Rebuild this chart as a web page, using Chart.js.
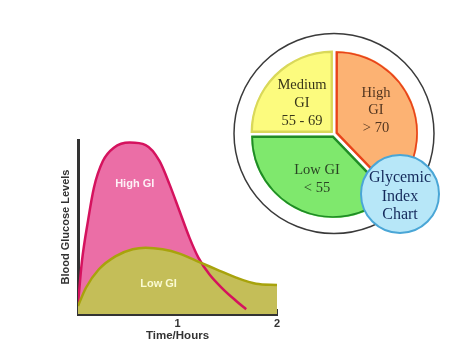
<!DOCTYPE html>
<html><head><meta charset="utf-8">
<script src="https://cdn.jsdelivr.net/npm/chart.js@4.4.1/dist/chart.umd.min.js"></script>
<style>
html,body{margin:0;padding:0;background:#fff;width:474px;height:359px;overflow:hidden;}
canvas{position:absolute;}
#line{left:0;top:0;}
#pie{left:214px;top:24px;}
</style></head><body>
<canvas id="line" width="300" height="359" style="width:300px;height:359px"></canvas>
<canvas id="pie" width="240" height="220" style="width:240px;height:220px"></canvas>
<script>
// ---- data ----
const highGiX = [0.00, 0.04, 0.10, 0.16, 0.25, 0.36, 0.52, 0.68, 0.82, 0.92, 1.02, 1.12, 1.21, 1.32, 1.46, 1.59, 1.69];
const highGiY = [5.9, 30.5, 53.4, 72.6, 87.9, 95.6, 98.5, 97.1, 87.9, 74.5, 59.2, 43.9, 32.4, 22.8, 14.2, 7.5, 2.7];
const lowGiX = [0.00, 0.08, 0.21, 0.38, 0.55, 0.68, 0.85, 1.02, 1.19, 1.39, 1.59, 1.79, 2.00];
const lowGiY = [4.6, 15.1, 25.7, 33.3, 37.2, 38.1, 37.2, 34.7, 30.5, 25.7, 20.9, 17.4, 16.7];
const xTicks = [1, 2];
const curveNames = ['Low GI', 'High GI'];
const axisTitles = ['Time/Hours', 'Blood Glucose Levels'];

const giCategories = ['High GI', 'Low GI', 'Medium GI'];
const giShares = [136, 134, 90];
const giLabelLines = [['High', 'GI', '> 70'], ['Low GI', '< 55'], ['Medium', 'GI', '55 - 69']];
const badgeLines = ['Glycemic', 'Index', 'Chart'];

// ---- line chart ----
const sans = 'Liberation Sans, Arial, sans-serif';
const serif = 'Liberation Serif, Times New Roman, serif';

const curveLabels = {
  id: 'curveLabels',
  afterDatasetsDraw(chart) {
    const {ctx, scales: {x, y}} = chart;
    ctx.save();
    ctx.font = 'bold 11px ' + sans;
    ctx.textAlign = 'center';
    ctx.textBaseline = 'middle';
    ctx.fillStyle = '#fdf0f6';
    ctx.fillText(curveNames[1], x.getPixelForValue(0.57), y.getPixelForValue(75));
    ctx.fillStyle = '#fafad2';
    ctx.fillText(curveNames[0], x.getPixelForValue(0.81), y.getPixelForValue(17.5));
    ctx.restore();
  }
};

new Chart(document.getElementById('line'), {
  type: 'line',
  data: {
    datasets: [
      { label: curveNames[0], data: lowGiX.map((v, i) => ({x: v, y: lowGiY[i]})),
        borderColor: '#a8a30c', backgroundColor: '#c4be58', borderWidth: 2.5,
        fill: 'origin', pointRadius: 0, cubicInterpolationMode: 'monotone' },
      { label: curveNames[1], data: highGiX.map((v, i) => ({x: v, y: highGiY[i]})),
        borderColor: '#d5125e', backgroundColor: '#eb6ea6', borderWidth: 2.5,
        fill: 'origin', pointRadius: 0, cubicInterpolationMode: 'monotone' }
    ]
  },
  options: {
    responsive: false, animation: false,
    layout: {padding: {left: 0, right: 23, top: 140, bottom: 15}},
    plugins: {legend: {display: false}, tooltip: {enabled: false}, filler: {drawTime: 'beforeDatasetsDraw'}},
    scales: {
      x: {
        type: 'linear', min: 0, max: 2,
        afterBuildTicks: s => { s.ticks = xTicks.map(v => ({value: v})); },
        afterFit: s => { s.height = 30; },
        grid: {drawOnChartArea: false, tickLength: -5, color: '#333', lineWidth: 2},
        border: {display: true, color: '#333', width: 3},
        ticks: {padding: 8, color: '#333', font: {family: sans, weight: 'bold', size: 11}},
        title: {display: true, text: axisTitles[0], color: '#333',
                font: {family: sans, weight: 'bold', size: 11.5}, padding: {top: 0, bottom: 1}}
      },
      y: {
        min: 0, max: 100,
        afterFit: s => { s.width = 78; },
        ticks: {display: false},
        grid: {drawOnChartArea: false, drawTicks: false},
        border: {display: true, color: '#333', width: 3},
        title: {display: true, text: axisTitles[1], color: '#333',
                font: {family: sans, weight: 'bold', size: 11}, padding: {top: 59, bottom: 0}}
      }
    }
  },
  plugins: [curveLabels]
});

// ---- pie chart ----
const ringAndLabels = {
  id: 'ringAndLabels',
  beforeDatasetsDraw(chart) {
    const a = chart.chartArea, ctx = chart.ctx;
    const cx = (a.left + a.right) / 2, cy = (a.top + a.bottom) / 2;
    ctx.save();
    ctx.beginPath();
    ctx.arc(cx, cy - 0.5, 100, 0, Math.PI * 2);
    ctx.fillStyle = '#fff';
    ctx.fill();
    ctx.lineWidth = 1.5;
    ctx.strokeStyle = '#3a3a3a';
    ctx.stroke();
    ctx.restore();
  },
  afterDatasetsDraw(chart) {
    const a = chart.chartArea, ctx = chart.ctx;
    const cx = (a.left + a.right) / 2, cy = (a.top + a.bottom) / 2;
    ctx.save();
    ctx.textAlign = 'center';
    ctx.textBaseline = 'middle';
    ctx.font = '14.5px ' + serif;
    const blocks = [
      {dx: 42, dy: [-41, -23.5, -6], color: '#533620'},
      {dx: -17, dy: [36, 54], color: '#2a4424'},
      {dx: -32, dy: [-49, -31, -13], color: '#38361a'}
    ];
    giLabelLines.forEach((lines, i) => {
      ctx.fillStyle = blocks[i].color;
      lines.forEach((t, j) => ctx.fillText(t, cx + blocks[i].dx, cy + blocks[i].dy[j]));
    });
    // badge
    const bx = cx + 66, by = cy + 60;
    ctx.beginPath();
    ctx.arc(bx, by, 39, 0, Math.PI * 2);
    ctx.fillStyle = '#b7e7f8';
    ctx.fill();
    ctx.lineWidth = 2;
    ctx.strokeStyle = '#4aa6d6';
    ctx.stroke();
    ctx.fillStyle = '#14295a';
    ctx.font = '16px ' + serif;
    [-16, 2.5, 21].forEach((d, j) => ctx.fillText(badgeLines[j], bx, by + d));
    ctx.restore();
  }
};

new Chart(document.getElementById('pie'), {
  type: 'pie',
  data: {
    labels: giCategories,
    datasets: [{
      data: giShares, radius: 82,
      backgroundColor: ['#fcb273', '#7fe86d', '#fcfb7e'],
      borderColor: ['#e8441a', '#1f8c25', '#d9d85a'],
      borderWidth: 2, offset: 8, borderAlign: 'inner'
    }]
  },
  options: {
    responsive: false, animation: false,
    layout: {padding: 0},
    plugins: {legend: {display: false}, tooltip: {enabled: false}}
  },
  plugins: [ringAndLabels]
});
</script>
</body></html>
